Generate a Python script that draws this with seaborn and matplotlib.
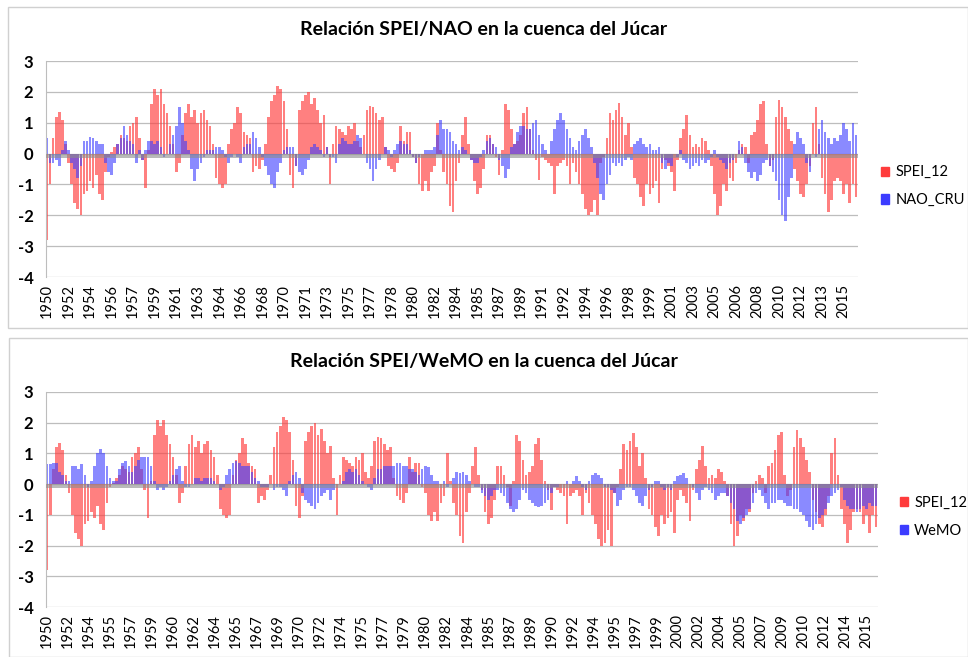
import numpy as np
import pandas as pd
import seaborn as sns
import matplotlib.pyplot as plt
from matplotlib.patches import Patch, Rectangle

# Quarterly values (1950 -> 2015)
spei_12 = [
    -2.8, -1.0, 0.5, 1.2, 1.35, 1.1, 0.3, -0.3, -1.0, -1.6, -1.8, -2.0,
    -1.3, -1.2, -0.9, -1.1, -0.7, -1.3, -1.5, -0.6, -0.1, 0.05, 0.2, 0.3,
    0.6, 0.5, 0.4, 0.9, 1.0, 1.2, 0.5, -0.2, -1.1, 0.1, 1.6, 2.1,
    1.9, 2.1, 1.6, 1.3, 0.9, 0.3, -0.6, -0.3, 0.6, 1.3, 1.6, 1.2,
    1.4, 1.0, 1.3, 1.4, 1.1, 0.9, 0.3, -0.8, -1.0, -1.1, -1.0, 0.3,
    0.8, 1.0, 1.5, 1.3, 0.7, 0.6, 0.5, -0.6, -0.4, -0.5, -0.2, 0.3,
    1.2, 1.7, 1.9, 2.2, 2.1, 1.7, 0.8, -0.7, -1.1, -0.4, 1.4, 1.7,
    1.9, 2.0, 1.6, 1.8, 1.4, 1.0, 1.25, 0.2, -1.0, 0.3, 0.9, 0.8,
    0.7, 0.6, 0.9, 0.8, 1.0, 0.4, 0.2, 0.6, 1.4, 1.55, 1.5, 1.3,
    1.1, 1.2, 0.2, -0.4, -0.5, -0.6, -0.3, 0.9, 0.4, 0.7, 0.7, -0.1,
    -0.3, -1.0, -1.2, -0.9, -1.2, -0.6, -0.4, 1.0, 0.1, -0.6, -1.0, -1.7,
    -1.9, -0.9, -0.3, 0.6, 1.2, 0.3, -0.2, -0.9, -1.3, -1.1, -0.5, 0.6,
    0.6, 0.3, -0.1, -0.7, 0.1, 1.6, 1.4, 0.8, 0.3, 0.4, 0.6, 1.3,
    1.5, 0.8, 0.1, -0.2, -0.85, -0.1, -0.2, -0.3, -0.4, -1.3, -0.4, -0.3,
    -0.2, -0.4, -1.0, -0.3, -0.6, -1.0, -1.3, -1.8, -2.0, -1.9, -1.5, -2.0,
    -0.3, -0.1, 0.5, 1.3, 1.1, 1.4, 1.65, 1.2, 0.6, 1.0, 0.2, -0.8,
    -1.0, -1.4, -1.7, -1.0, -1.3, -1.1, -0.9, -1.6, -0.5, -0.2, -0.4, -0.6,
    -1.2, -0.2, 0.5, 0.8, 1.25, 0.6, 0.2, 0.3, 0.2, 0.5, 0.4, 0.1,
    -0.4, -1.3, -2.0, -1.7, -1.0, -1.2, -0.8, -0.9, -0.3, 0.1, 0.3, 0.2,
    -0.3, 0.6, 0.7, 1.1, 1.6, 1.7, 0.3, -0.4, -0.2, 1.2, 1.75, 1.5,
    1.2, 0.8, 0.4, -0.5, -0.9, -1.3, -1.4, -1.0, -0.4, 1.0, 1.5, 0.3,
    -0.8, -1.3, -1.9, -1.5, -0.9, -0.8, -0.9, -1.3, -1.0, -1.6, -1.0, -1.4,
]

nao_cru = [
    0.5, -0.3, -0.3, -0.2, -0.4, 0.1, 0.4, 0.1, -0.3, -0.5, -0.8, -0.4,
    0.4, 0.4, 0.55, 0.5, 0.4, 0.3, 0.3, -0.3, -0.6, -0.7, -0.3, 0.3,
    0.5, 0.9, 0.6, 0.4, 0.3, -0.3, 0.1, -0.2, 0.1, 0.4, 0.4, 0.3,
    0.4, 0.2, -0.1, 0.0, 0.3, 0.6, 0.9, 1.5, 1.0, 0.4, 0.1, -0.5,
    -0.9, -0.5, -0.3, -0.1, 0.1, 0.1, 0.1, 0.2, 0.2, 0.1, -0.1, -0.3,
    -0.1, 0.0, -0.1, -0.3, 0.2, 0.3, 0.3, 0.7, 0.5, 0.2, -0.1, -0.4,
    -0.7, -1.0, -1.1, -0.6, -0.3, 0.1, 0.2, 0.2, 0.2, -0.4, -0.6, -0.7,
    -0.5, -0.2, 0.2, 0.3, 0.2, 0.1, -0.1, 0.2, -0.1, -0.1, -0.3, 0.3,
    0.5, 0.4, 0.3, 0.3, 0.4, 0.6, 0.5, 0.0, -0.3, -0.5, -0.9, -0.5,
    -0.2, 0.0, 0.2, 0.1, -0.1, 0.1, 0.3, 0.4, 0.3, 0.3, 0.1, -0.1,
    -0.3, -0.1, 0.0, 0.1, 0.1, 0.1, 0.2, 0.6, 1.1, 0.8, 0.8, 0.7,
    0.4, 0.3, 0.1, 0.2, 0.1, 0.0, -0.2, -0.3, -0.3, -0.1, 0.1, 0.4,
    0.5, 0.3, 0.2, -0.2, -0.4, -0.8, -0.5, 0.2, 0.3, 0.7, 0.9, 0.9,
    0.8, 0.8, 1.0, 1.1, 0.6, 0.3, 0.1, 0.0, 0.4, 0.8, 1.1, 1.3,
    1.1, 0.8, 0.5, 0.2, 0.1, 0.4, 0.6, 0.8, 0.5, 0.2, -0.3, -0.8,
    -1.3, -1.5, -1.0, -0.7, -0.3, -0.4, -0.3, -0.4, -0.2, -0.1, -0.2, 0.3,
    0.4, 0.5, 0.3, 0.2, 0.3, 0.1, 0.1, 0.2, -0.3, -0.5, -0.3, -0.4,
    0.0, -0.1, 0.1, -0.2, -0.3, -0.5, -0.4, -0.3, -0.4, -0.2, -0.3, -0.2,
    -0.1, 0.1, -0.1, -0.2, -0.3, -0.5, -0.3, -0.2, 0.0, 0.4, 0.2, -0.3,
    -0.6, -0.8, -0.6, -0.9, -0.7, -0.3, -0.2, -0.4, -0.6, -0.9, -1.5, -2.0,
    -2.2, -1.4, -0.8, 0.3, 0.7, 0.5, 0.3, -0.3, -0.6, 0.0, -0.1, 0.8,
    1.1, 0.7, 0.5, 0.3, 0.5, 0.4, 0.6, 1.0, 0.8, 0.4, 1.0, 0.6,
]

wemo = [
    0.65, 0.65, 0.7, 0.7, 0.4, 0.3, 0.1, 0.1, 0.6, 0.6, 0.5, 0.65,
    0.3, -0.1, 0.1, 0.6, 1.0, 1.15, 1.0, 0.6, 0.2, 0.1, 0.1, 0.5,
    0.7, 0.75, 0.6, 0.4, 0.6, 0.8, 0.9, 0.9, 0.9, 0.6, 0.1, -0.2,
    -0.1, -0.2, -0.1, 0.1, 0.3, 0.5, 0.6, 0.1, -0.1, -0.1, 0.0, 0.2,
    0.2, 0.1, 0.2, 0.2, 0.2, 0.1, 0.0, -0.2, -0.1, 0.3, 0.5, 0.7,
    0.75, 0.7, 0.6, 0.6, 0.6, 0.4, 0.2, 0.1, -0.1, -0.1, -0.1, 0.0,
    -0.2, -0.1, -0.1, -0.2, -0.4, 0.1, 0.3, 0.4, 0.2, -0.3, -0.5, -0.6,
    -0.7, -0.8, -0.6, -0.4, -0.3, -0.2, -0.5, -0.2, 0.0, 0.0, 0.1, 0.4,
    0.5, 0.4, 0.5, 0.3, 0.1, 0.0, -0.1, -0.2, 0.2, 0.5, 0.5, 0.6,
    0.6, 0.6, 0.6, 0.7, 0.7, 0.6, 0.6, 0.5, 0.5, 0.4, 0.3, 0.5,
    0.6, 0.55, 0.3, 0.1, 0.1, 0.0, 0.1, -0.1, 0.0, 0.2, 0.4, 0.35,
    0.4, 0.3, 0.1, 0.0, -0.1, -0.1, -0.3, -0.4, -0.5, -0.4, -0.2, -0.2,
    -0.3, -0.4, -0.6, -0.8, -0.9, -0.8, -0.5, -0.2, -0.3, -0.5, -0.6, -0.7,
    -0.75, -0.7, -0.6, -0.5, -0.3, -0.1, -0.1, 0.0, 0.0, 0.1, 0.0, 0.1,
    0.25, 0.1, -0.1, -0.2, 0.1, 0.3, 0.35, 0.3, 0.2, -0.1, -0.1, -0.2,
    -0.3, -0.7, -0.5, -0.2, -0.1, -0.1, -0.2, -0.4, -0.6, -0.7, -0.4, -0.2,
    -0.1, 0.1, 0.1, -0.1, -0.2, -0.1, -0.2, 0.1, 0.25, 0.3, 0.35, 0.2,
    0.0, -0.1, -0.3, -0.5, -0.2, -0.1, -0.2, -0.3, -0.5, -0.4, -0.3, -0.3,
    -0.4, -0.6, -0.8, -1.2, -1.3, -1.1, -1.0, -0.8, -0.6, -0.3, -0.2, -0.4,
    -0.6, -0.8, -0.6, -0.6, -0.5, -0.5, -0.6, -0.7, -0.7, -0.8, -0.8, -0.9,
    -1.0, -1.2, -1.4, -1.5, -1.3, -1.1, -1.0, -0.8, -0.6, -0.4, -0.3, -0.2,
    -0.1, -0.5, -0.7, -0.8, -0.8, -0.9, -0.8, -0.7, -0.8, -0.6, -0.7, -0.7,
]

years_nao = ["1950", "1952", "1954", "1956", "1957", "1959", "1961", "1963", "1964", "1966",
             "1968", "1970", "1971", "1973", "1975", "1977", "1978", "1980", "1982", "1984",
             "1985", "1987", "1989", "1991", "1992", "1994", "1996", "1998", "1999", "2001",
             "2003", "2005", "2006", "2008", "2010", "2012", "2013", "2015"]
years_wemo = ["1950", "1952", "1954", "1955", "1957", "1959", "1960", "1962", "1964", "1965",
              "1967", "1969", "1970", "1972", "1974", "1975", "1977", "1979", "1980", "1982",
              "1984", "1985", "1987", "1989", "1990", "1992", "1994", "1995", "1997", "1999",
              "2000", "2002", "2004", "2005", "2007", "2009", "2010", "2012", "2014", "2015"]

# month index of each quarterly value
month = np.arange(len(spei_12)) * 3

red = "#ff3c3c"
blue = "#3c3cff"

plt.rcParams['font.family'] = ['Lato', 'DejaVu Sans']
fig = plt.figure(figsize=(9.68, 6.57), dpi=100)

# light frames around each chart area
fig.patches.append(Rectangle((8 / 968, 1 - 328 / 657), 960 / 968, 321 / 657, transform=fig.transFigure,
                             fill=False, edgecolor="#d0d0d0", linewidth=1))
fig.patches.append(Rectangle((9 / 968, 0), 959 / 968, 1 - 338 / 657, transform=fig.transFigure,
                             fill=False, edgecolor="#d0d0d0", linewidth=1))

panels = [
    ("Relación SPEI/NAO en la cuenca del Júcar", nao_cru, "NAO_CRU", years_nao, 21,
     [46 / 968, 1 - 277 / 657, 812 / 968, 216 / 657], 30, 1.028),
    ("Relación SPEI/WeMO en la cuenca del Júcar", wemo, "WeMO", years_wemo, 20,
     [46 / 968, 1 - 607 / 657, 832 / 968, 215 / 657], 361, 1.026),
]

for title, index_vals, index_name, year_labels, step, box, title_y, leg_x in panels:
    ax = fig.add_axes(box)
    df = pd.DataFrame({"month": month, "SPEI_12": spei_12, index_name: index_vals})

    sns.barplot(data=df, x="month", y="SPEI_12", native_scale=True, color=red, alpha=0.65,
                saturation=1, errorbar=None, width=0.85, linewidth=0, ax=ax, zorder=2)
    sns.barplot(data=df, x="month", y=index_name, native_scale=True, color=blue, alpha=0.6,
                saturation=1, errorbar=None, width=0.85, linewidth=0, ax=ax, zorder=2)

    # category axis crossing at zero (dense tick marks look like a grey band)
    ax.axhspan(-0.13, 0, color="#8c8c8c", alpha=0.6, linewidth=0, zorder=3)

    ax.set_ylim(-4, 3)
    ax.set_xlim(-1, 791)
    ax.set_yticks(range(-4, 4))
    ax.set_yticklabels([str(v) for v in range(-4, 4)], fontweight="bold", fontsize=12)
    ax.set_xticks(np.arange(len(year_labels)) * step)
    ax.set_xticklabels(year_labels, rotation=90, fontsize=10.5)
    ax.tick_params(axis="both", length=0)
    ax.tick_params(axis="y", pad=9)
    ax.tick_params(axis="x", pad=5)
    ax.set_xlabel("")
    ax.set_ylabel("")

    ax.grid(axis="y", color="#bdbdbd", linewidth=0.9)
    ax.set_axisbelow(True)
    for side in ["top", "right", "bottom"]:
        ax.spines[side].set_visible(False)
    ax.spines["left"].set_color("#bdbdbd")

    fig.text(0.5, 1 - title_y / 657, title, ha="center", va="center",
             fontsize=14, fontweight="bold")

    handles = [Patch(color=red, label="SPEI_12"), Patch(color=blue, label=index_name)]
    ax.legend(handles=handles, loc="center left", bbox_to_anchor=(leg_x, 0.42), frameon=False,
              fontsize=10.5, handlelength=0.6, handleheight=0.6, handletextpad=0.4,
              labelspacing=0.95, borderaxespad=0, borderpad=0)

fig.savefig("out.png", dpi=100)
